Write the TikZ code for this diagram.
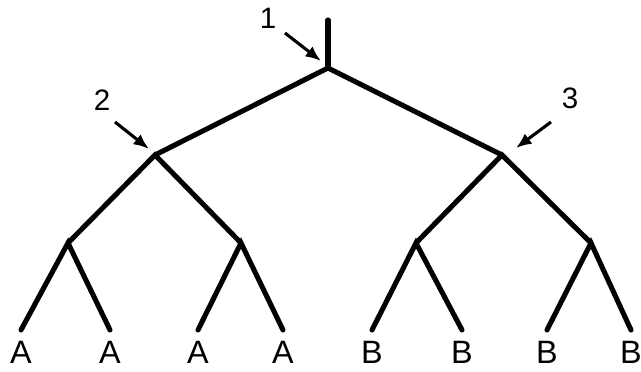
\documentclass[tikz,border=0pt]{standalone}
\usepackage{fontspec}
\setmainfont{Liberation Sans}
\usetikzlibrary{arrows.meta}

\tikzset{
  branch/.style={line width=3.6pt,line cap=round},
  pointer/.style={line width=2.2pt,-{Latex[length=11pt,width=9pt]}},
  leaflabel/.style={font=\fontsize{23}{26}\selectfont,inner sep=0pt},
  numlabel/.style={font=\fontsize{21}{24}\selectfont,inner sep=0pt}
}

\begin{document}
\begin{tikzpicture}[x=0.025cm,y=-0.025cm]
    \useasboundingbox (0,0) rectangle (641,372);
    % branching points
    \coordinate (top) at (328,20);
    \coordinate (root) at (328,68);
    \coordinate (nl) at (155,155);
    \coordinate (nr) at (502,155);
    \coordinate (nll) at (68,243);
    \coordinate (nlr) at (241,243);
    \coordinate (nrl) at (416,243);
    \coordinate (nrr) at (591,243);
    % leaf ends
    \coordinate (t1) at (21,330);
    \coordinate (t2) at (110,330);
    \coordinate (t3) at (198,330);
    \coordinate (t4) at (283,330);
    \coordinate (t5) at (372,330);
    \coordinate (t6) at (462,330);
    \coordinate (t7) at (547,330);
    \coordinate (t8) at (631,330);
    % tree
    \draw[branch] (top) -- (root);
    \draw[branch] (nl) -- (root) -- (nr);
    \draw[branch] (nll) -- (nl) -- (nlr);
    \draw[branch] (nrl) -- (nr) -- (nrr);
    \draw[branch] (t1) -- (nll) -- (t2);
    \draw[branch] (t3) -- (nlr) -- (t4);
    \draw[branch] (t5) -- (nrl) -- (t6);
    \draw[branch] (t7) -- (nrr) -- (t8);
    % leaf labels
    \foreach \i/\txt in {1/A,2/A,3/A,4/A,5/B,6/B,7/B,8/B}
      \node[leaflabel,below=8pt] (lab\i) at (t\i) {\txt};
    % numbered pointers
    \node[numlabel] (n1) at (268,18) {1};
    \node[numlabel] (n2) at (102,100) {2};
    \node[numlabel] (n3) at (570,98) {3};
    \coordinate (p1s) at (285,33);
    \coordinate (p1e) at (321,61);
    \coordinate (p2s) at (115,122);
    \coordinate (p2e) at (149,149);
    \coordinate (p3s) at (551,122);
    \coordinate (p3e) at (516,148);
    \draw[pointer] (p1s) -- (p1e);
    \draw[pointer] (p2s) -- (p2e);
    \draw[pointer] (p3s) -- (p3e);
\end{tikzpicture}
\end{document}
